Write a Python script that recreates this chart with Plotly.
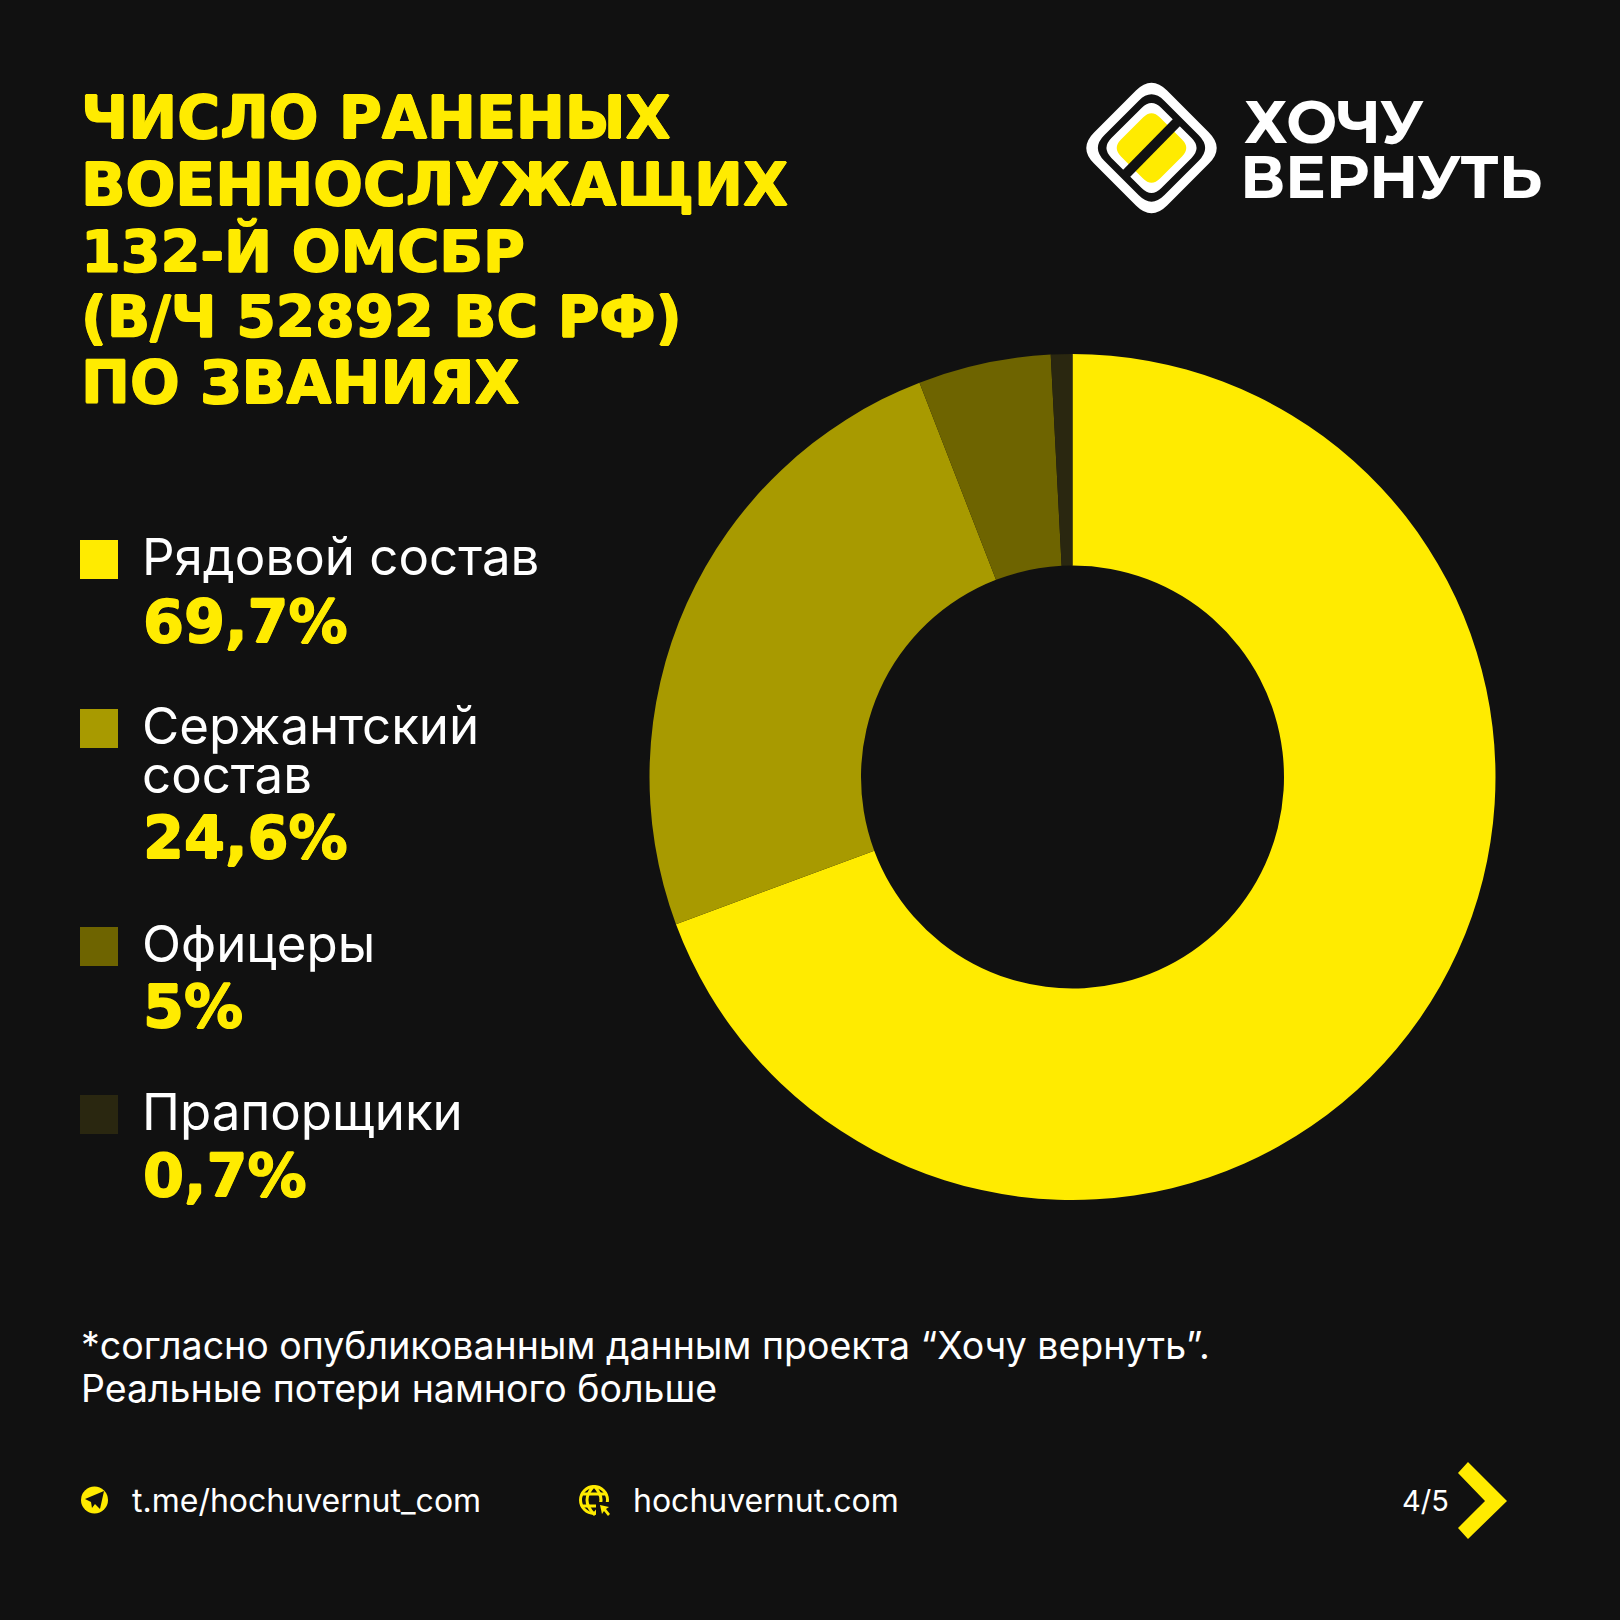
"""Donut of wounded servicemen by rank, with the infographic card around it."""

import plotly.graph_objects as go

W = 1620
BG = "#111111"
YELLOW = "#FFEB00"
WHITE = "#FFFFFF"
BODY_FONT = "Inter"
HEAVY_FONT = "DejaVu Sans"
LOGO_FONT = "Montserrat, Inter"
# fakes the heavier weight of the original display face
THICKEN = "0.8px 0 0 #FFEB00, -0.8px 0 0 #FFEB00, 0 0.6px 0 #FFEB00, 0 -0.6px 0 #FFEB00"

categories = ["Рядовой состав", "Сержантский состав", "Офицеры", "Прапорщики"]
# slice shares as measured on the drawn ring, the printed labels differ slightly
values = [69.34, 24.77, 5.07, 0.82]
value_labels = ["69,7%", "24,6%", "5%", "0,7%"]
colors = [YELLOW, "#A89A00", "#6E6400", "#2A2710"]

title_lines = [
    "ЧИСЛО РАНЕНЫХ",
    "ВОЕННОСЛУЖАЩИХ",
    "132-Й ОМСБР",
    "(В/Ч 52892 ВС РФ)",
    "ПО ЗВАНИЯХ",
]
note_lines = [
    "*согласно опубликованным данным проекта “Хочу вернуть”.",
    "Реальные потери намного больше",
]


def px(x):
    return x / W


def py(y):
    return 1 - y / W


def poly(points, color):
    path = "M " + " L ".join(f"{px(x):.5f},{py(y):.5f}" for x, y in points) + " Z"
    return dict(type="path", xref="paper", yref="paper", path=path,
                fillcolor=color, line=dict(width=0), layer="above")


def diamond(cx, cy, h, c, color):
    # square on its corner, corners rounded with quadratic curves
    verts = [(cx, cy - h), (cx + h, cy), (cx, cy + h), (cx - h, cy)]
    d = c * 0.7071
    cuts = [
        ((cx - d, cy - h + d), (cx + d, cy - h + d)),
        ((cx + h - d, cy - d), (cx + h - d, cy + d)),
        ((cx + d, cy + h - d), (cx - d, cy + h - d)),
        ((cx - h + d, cy + d), (cx - h + d, cy - d)),
    ]
    parts = []
    for i, (v, (a, b)) in enumerate(zip(verts, cuts)):
        parts.append(("M" if i == 0 else "L") + f" {px(a[0]):.5f},{py(a[1]):.5f}")
        parts.append(f"Q {px(v[0]):.5f},{py(v[1]):.5f} {px(b[0]):.5f},{py(b[1]):.5f}")
    return dict(type="path", xref="paper", yref="paper", path=" ".join(parts) + " Z",
                fillcolor=color, line=dict(width=0), layer="above")


def circle(cx, cy, r, fill, line_color=None, line_width=0):
    return dict(type="circle", xref="paper", yref="paper",
                x0=px(cx - r), x1=px(cx + r), y0=py(cy + r), y1=py(cy - r),
                fillcolor=fill, layer="above",
                line=dict(width=line_width, color=line_color or fill))


def seg(x0, y0, x1, y1, color, width):
    return dict(type="line", xref="paper", yref="paper",
                x0=px(x0), y0=py(y0), x1=px(x1), y1=py(y1), layer="above",
                line=dict(color=color, width=width))


def label(x, y, text, size, color=WHITE, family=BODY_FONT, weight=400, shadow=None):
    font = dict(family=family, size=size, color=color, weight=weight)
    if shadow:
        font["shadow"] = shadow
    return dict(xref="paper", yref="paper", x=px(x), y=py(y), text=text,
                showarrow=False, xanchor="left", yanchor="middle", align="left",
                font=font)


fig = go.Figure()
fig.add_trace(go.Pie(
    labels=categories,
    values=values,
    hole=0.5,
    sort=False,
    direction="clockwise",
    rotation=0,
    textinfo="none",
    marker=dict(colors=colors, line=dict(width=0)),
    showlegend=False,
    domain=dict(x=[px(1072.5 - 423), px(1072.5 + 423)],
                y=[py(777 + 423), py(777 - 423)]),
))

annotations = []
shapes = []

title_sizes = [58.5, 58.5, 57.2, 56.7, 58.5]
for line, y, size in zip(title_lines, [118, 185, 251, 317, 383], title_sizes):
    annotations.append(label(79, y, line, size, YELLOW, HEAVY_FONT, 700, THICKEN))

# legend: swatch, label lines, percentage
swatch_tops = [540, 709, 927, 1095]
label_rows = [[556], [725, 774], [943], [1111]]
value_rows = [621, 837, 1007, 1175]
legend_text = [["Рядовой состав"], ["Сержантский", "состав"], ["Офицеры"], ["Прапорщики"]]
for top, rows, words, v_y, v_text, color in zip(
        swatch_tops, label_rows, legend_text, value_rows, value_labels, colors):
    shapes.append(dict(type="rect", xref="paper", yref="paper", layer="above",
                       x0=px(80), x1=px(118), y0=py(top + 39), y1=py(top),
                       fillcolor=color, line=dict(width=0)))
    for row, word in zip(rows, words):
        annotations.append(label(140, row, word, 51))
    annotations.append(label(141, v_y, v_text, 59, YELLOW, HEAVY_FONT, 700, THICKEN))

for line, y in zip(note_lines, [1345, 1388]):
    annotations.append(label(79, y, line, 37.5))

annotations.append(label(130, 1500, "t.me/hochuvernut_com", 32))
annotations.append(label(631, 1500, "hochuvernut.com", 32))
annotations.append(label(1400, 1500, "4/5", 29))

# logo wordmark
annotations.append(label(1242, 121, "ХОЧУ", 60.5, WHITE, LOGO_FONT, 700))
annotations.append(label(1238, 176, "ВЕРНУТЬ", 60.5, WHITE, LOGO_FONT, 700))

# logo mark
shapes += [
    diamond(1151.5, 148, 73, 22, WHITE),
    diamond(1151.5, 148, 60, 18, BG),
    diamond(1151.5, 148, 50, 14, WHITE),
    diamond(1151.5, 148, 39, 12, YELLOW),
    seg(1124, 176, 1179, 120, BG, 10),
]

# telegram icon
shapes.append(circle(94.5, 1500, 13.5, YELLOW))
shapes.append(poly([(85, 1499), (104, 1491), (100, 1509), (95, 1504), (92, 1508),
                    (91, 1502)], BG))

# globe icon
shapes += [
    circle(594, 1500, 13.5, BG, YELLOW, 3),
    dict(type="path", xref="paper", yref="paper", layer="above", fillcolor="rgba(0,0,0,0)",
         line=dict(color=YELLOW, width=3),
         path=f"M {px(594):.5f},{py(1486):.5f} Q {px(580):.5f},{py(1500):.5f} {px(594):.5f},{py(1514):.5f} "
              f"Q {px(608):.5f},{py(1500):.5f} {px(594):.5f},{py(1486):.5f}"),
    seg(582, 1494, 606, 1494, YELLOW, 3),
    seg(582, 1506, 606, 1506, YELLOW, 3),
    poly([(596, 1502), (612, 1502), (612, 1518), (596, 1518)], BG),
    poly([(600, 1505), (609, 1507), (606, 1509), (610, 1514), (608, 1516), (604, 1511),
          (602, 1514)], YELLOW),
]

# next-page chevron
shapes.append(poly([(1468, 1462), (1507, 1501), (1468, 1539), (1458, 1528),
                    (1485, 1501), (1458, 1473)], YELLOW))

fig.update_layout(
    width=W,
    height=W,
    margin=dict(l=0, r=0, t=0, b=0),
    paper_bgcolor=BG,
    plot_bgcolor=BG,
    annotations=annotations,
    shapes=shapes,
)

fig.write_html("out.html", config=dict(displayModeBar=False),
               post_script="document.body.style.margin='0';")
